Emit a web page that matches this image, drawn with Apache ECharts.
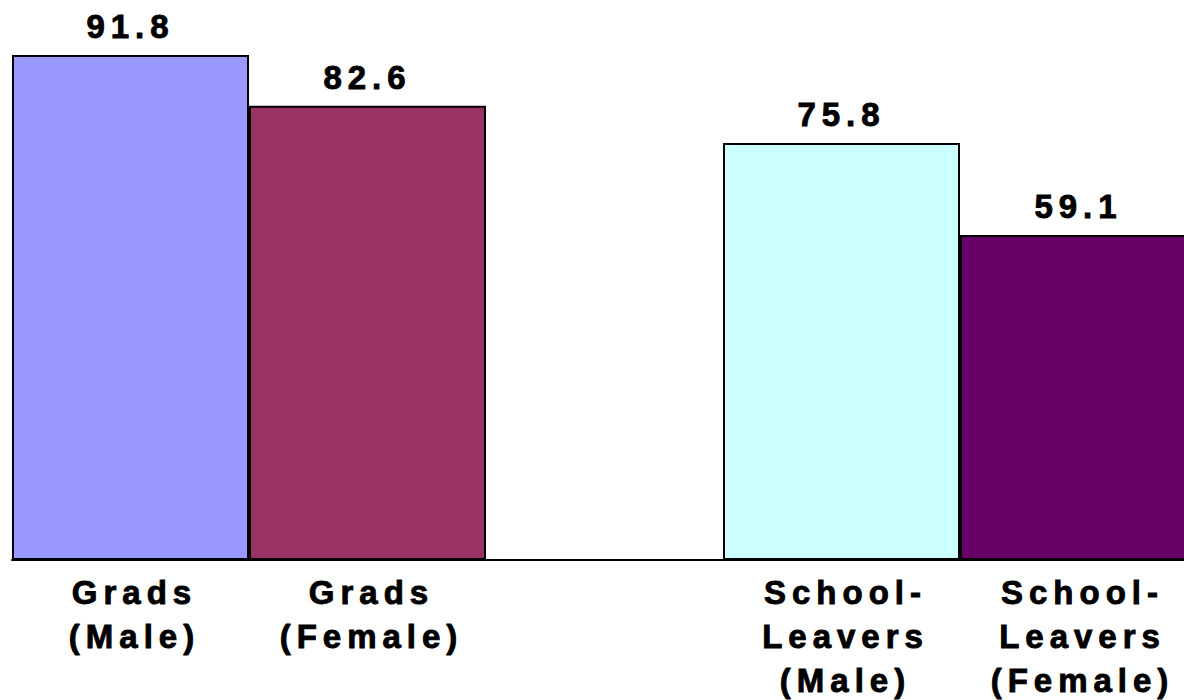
<!DOCTYPE html>
<html>
<head>
<meta charset="utf-8">
<script src="https://cdn.jsdelivr.net/npm/echarts@6/dist/echarts.min.js"></script>
<style>
  html, body { margin: 0; padding: 0; background: #fff; }
  #chart { width: 1184px; height: 700px; }
  /* the original text is spaced out wide */
  #chart text { letter-spacing: 6px; }
</style>
</head>
<body>
<div id="chart"></div>
<script>
// categories (empty slot keeps the gap between the two groups)
const categories = ['Grads\n(Male)', 'Grads\n(Female)', '', 'School-\nLeavers\n(Male)', 'School-\nLeavers\n(Female)'];
const values = [91.8, 82.6, null, 75.8, 59.1];
const barColors = ['#9999FF', '#993366', '#FFFFFF', '#CCFFFF', '#660066'];

const fontFamily = "'Liberation Sans', Arial, sans-serif";

const chart = echarts.init(document.getElementById('chart'), null, { renderer: 'svg' });

chart.setOption({
  animation: false,
  grid: {
    left: 12,
    width: 1185,
    top: 10,
    bottom: 140,
    outerBoundsMode: 'none',
    containLabel: false,
  },
  xAxis: {
    type: 'category',
    data: categories,
    axisLine: { show: true, lineStyle: { color: '#000', width: 2 } },
    axisTick: { show: false },
    axisLabel: {
      interval: 0,
      margin: 10,
      color: '#000',
      fontFamily: fontFamily,
      fontWeight: 'bold',
      fontSize: 33,
      lineHeight: 44,
      padding: [0, 0, 0, 8],
      textBorderColor: '#000',
      textBorderWidth: 0.9,
    },
  },
  yAxis: {
    type: 'value',
    min: 0,
    max: 100,
    show: false,
    splitLine: { show: false },
  },
  series: [
    {
      type: 'bar',
      barCategoryGap: '0%',
      data: values.map((v, i) => ({
        value: v,
        itemStyle: { color: barColors[i] },
      })),
      itemStyle: { borderColor: '#000', borderWidth: 2 },
      label: {
        show: true,
        position: 'top',
        distance: 12,
        color: '#000',
        fontFamily: fontFamily,
        fontWeight: 'bold',
        fontSize: 33,
        textBorderColor: '#000',
        textBorderWidth: 0.9,
      },
    },
  ],
});
</script>
</body>
</html>
